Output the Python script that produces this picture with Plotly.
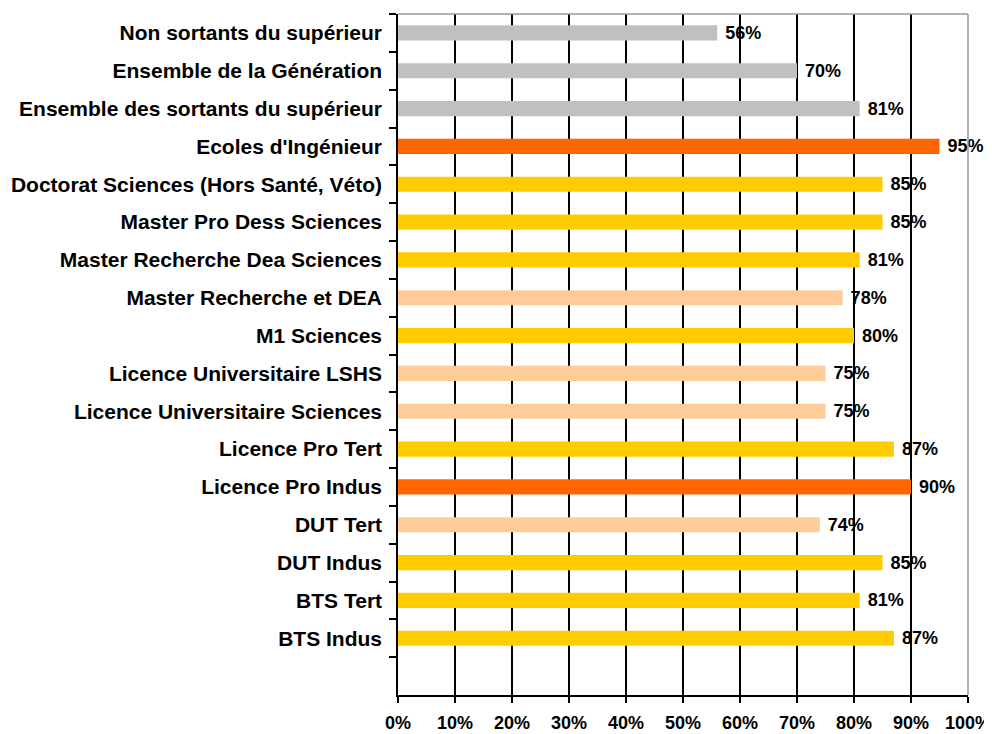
import plotly.graph_objects as go

categories = [
    "Non sortants du supérieur",
    "Ensemble de la Génération",
    "Ensemble des sortants du supérieur",
    "Ecoles d'Ingénieur",
    "Doctorat Sciences (Hors Santé, Véto)",
    "Master Pro Dess Sciences",
    "Master Recherche Dea Sciences",
    "Master Recherche et DEA",
    "M1 Sciences",
    "Licence Universitaire LSHS",
    "Licence Universitaire Sciences",
    "Licence Pro Tert",
    "Licence Pro Indus",
    "DUT Tert",
    "DUT Indus",
    "BTS Tert",
    "BTS Indus",
]
values = [56, 70, 81, 95, 85, 85, 81, 78, 80, 75, 75, 87, 90, 74, 85, 81, 87]
groups = ["ref", "ref", "ref", "top", "sci", "sci", "sci", "other", "sci",
          "other", "other", "sci", "top", "other", "sci", "sci", "sci"]
group_colors = {"ref": "#C0C0C0", "top": "#FF6600", "sci": "#FFCC00", "other": "#FFCC99"}
x_ticks = [0, 10, 20, 30, 40, 50, 60, 70, 80, 90, 100]
x_tick_labels = [f"{t}%" for t in x_ticks]

font = "Liberation Sans, Arial, sans-serif"
cat_order = categories + [" "]

fig = go.Figure(go.Bar(
    x=values,
    y=categories,
    orientation="h",
    marker=dict(color=[group_colors[g] for g in groups], line=dict(width=0)),
    width=0.4,
    text=[f"\u00a0<b>{v}%</b>" for v in values],
    textposition="outside",
    constraintext="none",
    textfont=dict(family=font, size=18, color="black"),
    cliponaxis=False,
))

fig.update_layout(
    width=984, height=726,
    margin=dict(l=390, r=24, t=6, b=39, autoexpand=False),
    paper_bgcolor="white", plot_bgcolor="white",
    showlegend=False,
    xaxis=dict(
        range=[0, 100], tickvals=x_ticks, ticktext=[f"<b>{t}</b>" for t in x_tick_labels],
        tickfont=dict(family=font, size=18, color="black"),
        showgrid=True, gridcolor="black", gridwidth=1.5,
        showline=True, linecolor="black", linewidth=1.5,
        ticks="outside", ticklen=6, tickcolor="black", tickwidth=1.5,
        ticklabelstandoff=5, zeroline=False, fixedrange=True, automargin=False,
    ),
    yaxis=dict(
        type="category", categoryorder="array", categoryarray=cat_order,
        range=[len(cat_order) - 0.5, -0.5],
        tickmode="array", tickvals=categories,
        ticktext=[f"<b>{c}</b>" for c in categories],
        tickfont=dict(family=font, size=21, color="black"),
        showline=True, linecolor="black", linewidth=1.5,
        ticks="outside", ticklen=7, tickcolor="black", tickwidth=1.5,
        tickson="boundaries", ticklabelstandoff=10,
        showgrid=False, zeroline=False, fixedrange=True, automargin=False,
    ),
    shapes=[
        dict(type="line", xref="x domain", yref="y domain", x0=0, x1=1, y0=1, y1=1,
             line=dict(color="#999999", width=1.5), layer="above"),
        dict(type="line", xref="x domain", yref="y domain", x0=1, x1=1, y0=0, y1=1,
             line=dict(color="#999999", width=1.5), layer="above"),
    ],
)

fig.write_html("out.html")
